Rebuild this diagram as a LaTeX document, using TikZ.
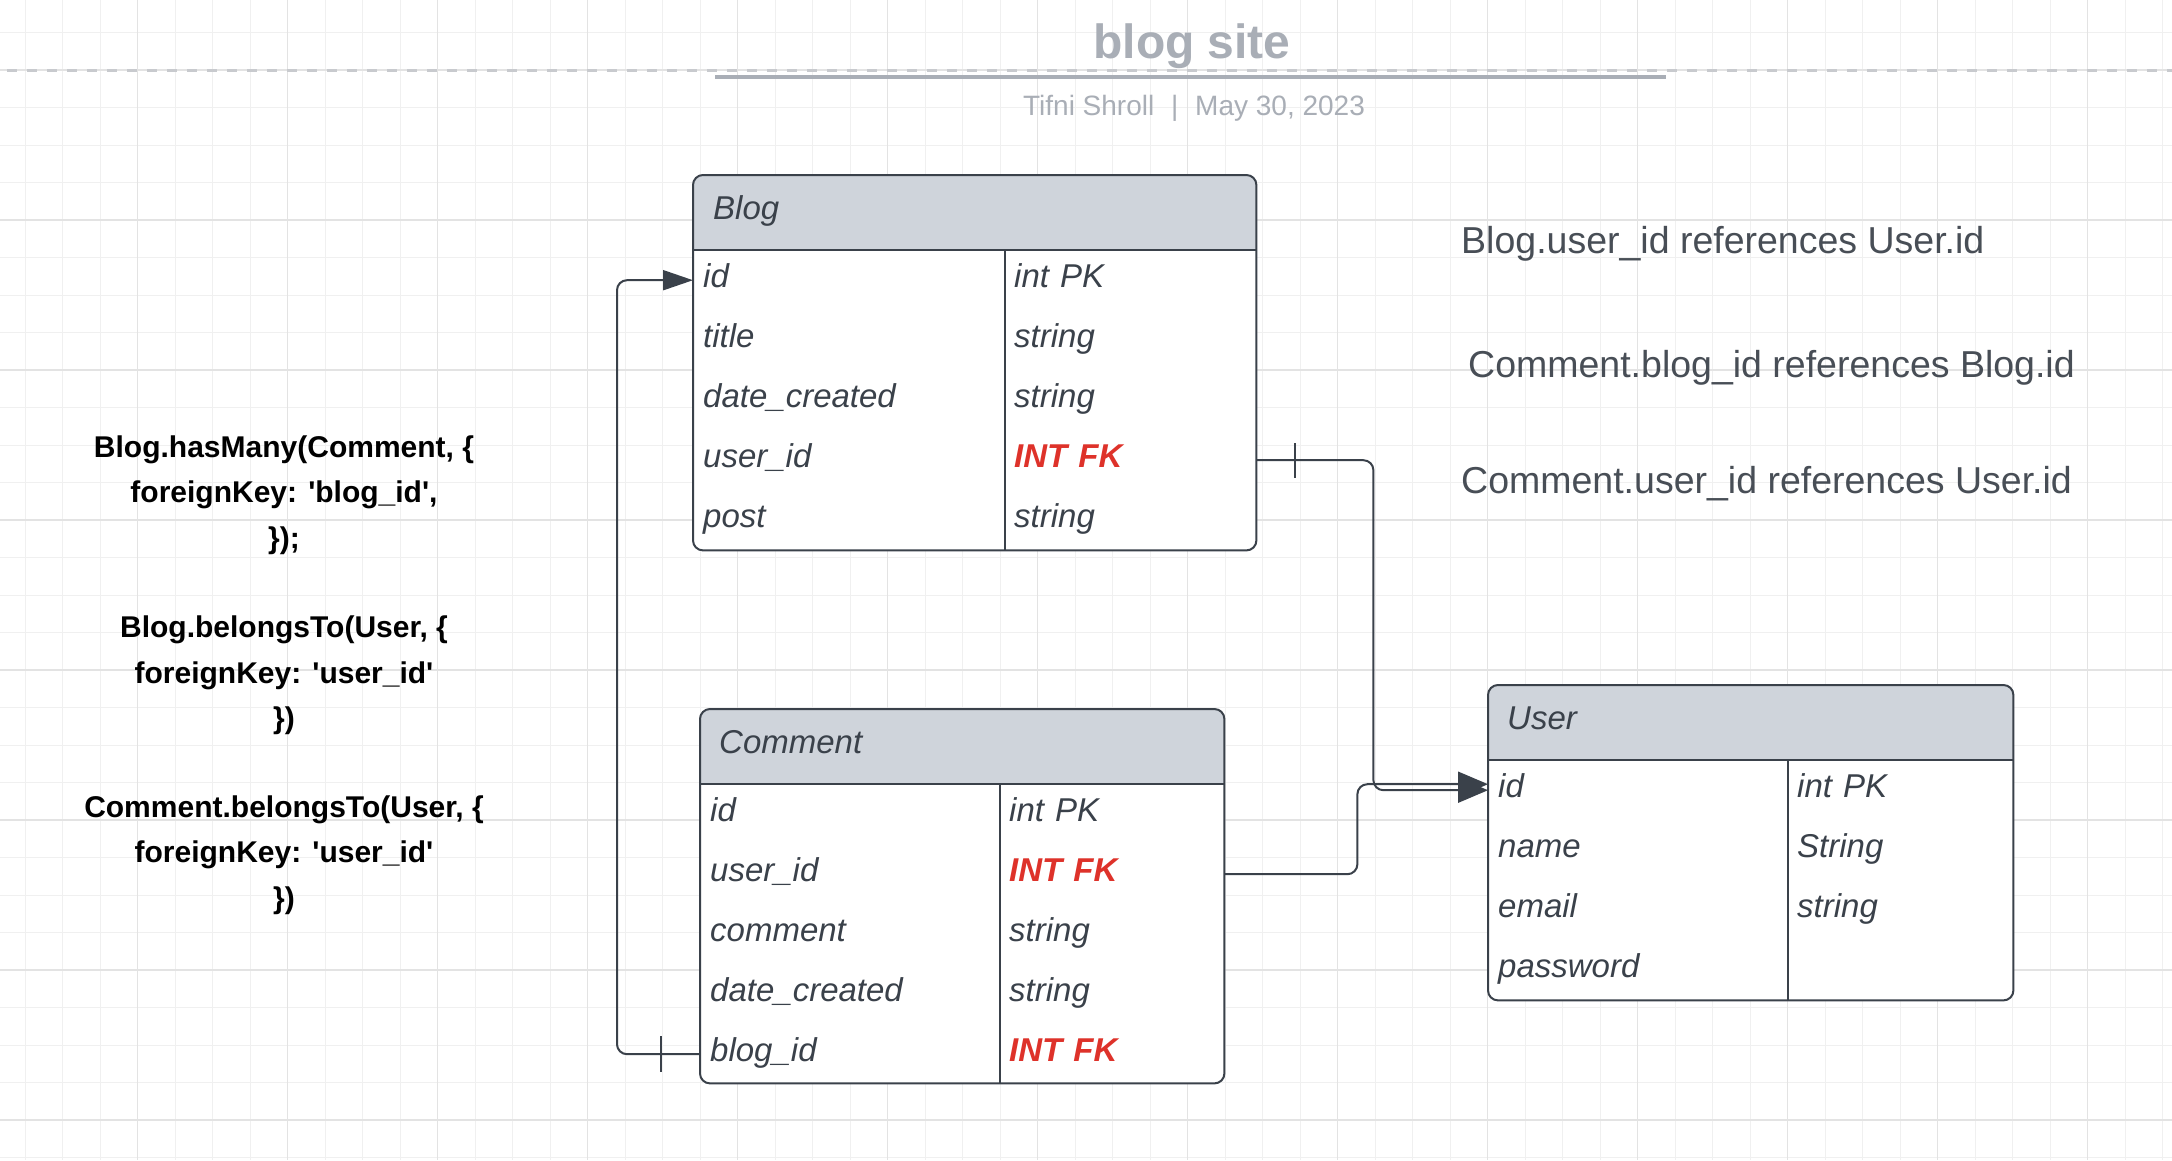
\documentclass[tikz,border=0pt]{standalone}
\usepackage{fontspec}
\setmainfont{Liberation Sans}
\usetikzlibrary{arrows.meta}
\definecolor{ink}{RGB}{58,65,74}
\definecolor{hdr}{RGB}{207,212,219}
\definecolor{fkred}{RGB}{222,50,42}
\definecolor{titlegrey}{RGB}{169,174,182}
\definecolor{notegrey}{RGB}{72,78,86}
\definecolor{gridminor}{RGB}{240,240,240}
\definecolor{gridmajor}{RGB}{227,227,227}
\definecolor{dashgrey}{RGB}{200,202,206}
\tikzset{
  tablebox/.style={fill=white, rounded corners=10pt, anchor=north west, inner sep=0pt},
  frame/.style={draw=ink, line width=2pt, rounded corners=10pt},
  rule/.style={draw=ink, line width=2pt},
  hdrtext/.style={anchor=west, inner sep=0pt, text height=23pt, text depth=9pt,
    font=\fontsize{33}{40}\selectfont\itshape, text=ink},
  cell/.style={anchor=north west, inner xsep=10pt, inner ysep=0pt, minimum height=60pt,
    text height=23pt, text depth=9pt, align=left,
    font=\fontsize{33}{40}\selectfont\itshape, text=ink},
  tcell/.style={cell, inner xsep=9pt},
  fk/.style={text=fkred, font=\fontsize{33}{40}\selectfont\bfseries\itshape},
  conn/.style={draw=ink, line width=2pt, rounded corners=10pt},
  tick/.style={draw=ink, line width=2pt},
  note/.style={anchor=base west, inner sep=0pt, text=notegrey, font=\fontsize{37.5}{45}\selectfont},
  code/.style={anchor=center, inner sep=0pt, align=center, text=black,
    font=\fontsize{30}{45.5}\selectfont\bfseries},
}
\begin{document}
\begin{tikzpicture}[x=1pt,y=-1pt]
\useasboundingbox (0,0) rectangle (2172,1160);
\fill[white] (0,0) rectangle (2172,1160);
% grid
\foreach \i in {0,...,57} \draw[gridminor, line width=1pt] ({25.3+37.5*\i},0) -- ({25.3+37.5*\i},1160);
\foreach \j in {0,...,30} \draw[gridminor, line width=1pt] (0,{32.5+37.5*\j}) -- (2172,{32.5+37.5*\j});
\foreach \i in {0,...,13} \draw[gridmajor, line width=1.2pt] ({137.8+150*\i},0) -- ({137.8+150*\i},1160);
\foreach \j in {0,...,7} \draw[gridmajor, line width=1.2pt] (0,{70+150*\j}) -- (2172,{70+150*\j});

% title
\draw[dashgrey, line width=3pt, dash pattern=on 10pt off 10pt, dash phase=-7pt] (0,70) -- (2172,70);
\node[anchor=base, inner sep=0pt, text=titlegrey, font=\fontsize{48}{56}\selectfont\bfseries] (title) at (1192,58) {blog site};
\draw[titlegrey, line width=3.5pt] (715,77) -- (1666,77);
\node[anchor=base, inner sep=0pt, text=titlegrey, font=\fontsize{28}{34}\selectfont] (subtitle) at (1194,115) {Tifni Shroll\hspace{0.6em}|\hspace{0.6em}May 30, 2023};

% ---------- Blog table ----------
\node[tablebox, minimum width=563pt, minimum height=375pt] (blog) at (693,175) {};
\begin{scope}
  \clip[rounded corners=10pt] (693,175) rectangle (1256,550);
  \fill[hdr] (693,175) rectangle (1256,250);
\end{scope}
\draw[rule] (693,250) -- (1256,250);
\draw[rule] (1005,250) -- (1005,550);
\draw[frame] (blog.north west) rectangle (blog.south east);
\node[hdrtext] (blog-h) at (713,212.5) {Blog};
\node[cell, text width=292pt] (blog-id) at (693,250) {id};
\node[cell, text width=292pt] (blog-title) at (693,310) {title};
\node[cell, text width=292pt] (blog-date) at (693,370) {date\_created};
\node[cell, text width=292pt] (blog-uid) at (693,430) {user\_id};
\node[cell, text width=292pt] (blog-post) at (693,490) {post};
\node[tcell, text width=233pt] (blog-id-t) at (1005,250) {int PK};
\node[tcell, text width=233pt] (blog-title-t) at (1005,310) {string};
\node[tcell, text width=233pt] (blog-date-t) at (1005,370) {string};
\node[tcell, text width=233pt, fk] (blog-uid-t) at (1005,430) {INT FK};
\node[tcell, text width=233pt] (blog-post-t) at (1005,490) {string};

% ---------- Comment table ----------
\node[tablebox, minimum width=524pt, minimum height=374pt] (cm) at (700,709) {};
\begin{scope}
  \clip[rounded corners=10pt] (700,709) rectangle (1224,1083);
  \fill[hdr] (700,709) rectangle (1224,784);
\end{scope}
\draw[rule] (700,784) -- (1224,784);
\draw[rule] (1000,784) -- (1000,1083);
\draw[frame] (cm.north west) rectangle (cm.south east);
\node[hdrtext] (cm-h) at (719,746.5) {Comment};
\node[cell, text width=280pt] (cm-id) at (700,784) {id};
\node[cell, text width=280pt] (cm-uid) at (700,844) {user\_id};
\node[cell, text width=280pt] (cm-com) at (700,904) {comment};
\node[cell, text width=280pt] (cm-date) at (700,964) {date\_created};
\node[cell, text width=280pt] (cm-bid) at (700,1024) {blog\_id};
\node[tcell, text width=206pt] (cm-id-t) at (1000,784) {int PK};
\node[tcell, text width=206pt, fk] (cm-uid-t) at (1000,844) {INT FK};
\node[tcell, text width=206pt] (cm-com-t) at (1000,904) {string};
\node[tcell, text width=206pt] (cm-date-t) at (1000,964) {string};
\node[tcell, text width=206pt, fk] (cm-bid-t) at (1000,1024) {INT FK};

% ---------- User table ----------
\node[tablebox, minimum width=525pt, minimum height=315pt] (user) at (1488,685) {};
\begin{scope}
  \clip[rounded corners=10pt] (1488,685) rectangle (2013,1000);
  \fill[hdr] (1488,685) rectangle (2013,760);
\end{scope}
\draw[rule] (1488,760) -- (2013,760);
\draw[rule] (1788,760) -- (1788,1000);
\draw[frame] (user.north west) rectangle (user.south east);
\node[hdrtext] (user-h) at (1507,722.5) {User};
\node[cell, text width=280pt] (user-id) at (1488,760) {id};
\node[cell, text width=280pt] (user-name) at (1488,820) {name};
\node[cell, text width=280pt] (user-email) at (1488,880) {email};
\node[cell, text width=280pt] (user-pw) at (1488,940) {password};
\node[tcell, text width=207pt] (user-id-t) at (1788,760) {int PK};
\node[tcell, text width=207pt] (user-name-t) at (1788,820) {String};
\node[tcell, text width=207pt] (user-email-t) at (1788,880) {string};

% ---------- connectors ----------
\draw[conn, -{Triangle[length=30pt,width=20pt]}] (cm-bid.west) -- ++(-83,0) |- (blog-id.west);
\draw[tick] ([xshift=-39pt]cm-bid.west) ++(0,-18) -- ++(0,36);

\draw[conn, -{Triangle[length=30pt,width=25pt]}] (blog-uid-t.east) -- ++(117,0) |- (user-id.west);
\draw[tick] ([xshift=39pt]blog-uid-t.east) ++(0,-17) -- ++(0,35);

\draw[conn, -{Triangle[length=30pt,width=25pt]}] (cm-uid-t.east) -- ++(133,0) |- ([yshift=6pt]user-id.west);

% ---------- notes ----------
\node[note] (n1) at (1461,253) {Blog.user\_id references User.id};
\node[note] (n2) at (1468,377) {Comment.blog\_id references Blog.id};
\node[note] (n3) at (1461,493) {Comment.user\_id references User.id};

% ---------- code ----------
\node[code] (c1) at (284,495) {Blog.hasMany(Comment, \{\\foreignKey: \textquotesingle blog\_id\textquotesingle,\\\});};
\node[code] (c2) at (284,675.5) {Blog.belongsTo(User, \{\\foreignKey: \textquotesingle user\_id\textquotesingle\\\})};
\node[code] (c3) at (284,855) {Comment.belongsTo(User, \{\\foreignKey: \textquotesingle user\_id\textquotesingle\\\})};
\end{tikzpicture}
\end{document}
